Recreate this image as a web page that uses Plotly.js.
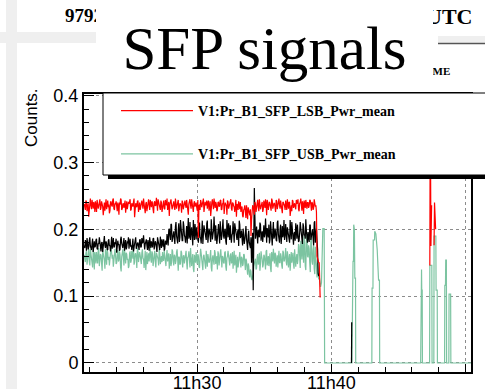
<!DOCTYPE html>
<html><head><meta charset="utf-8">
<script src="https://cdn.plot.ly/plotly-3.0.1.min.js"></script>
<style>html,body{margin:0;padding:0;background:#fff}#chart{width:485px;height:389px}</style>
</head><body><div id="chart"></div>
<script>
// ---- data ----
const day = '2011-01-17';
const sampleStart = '11:21:36';
const sampleStepSec = 5;      // A-samples every 5 s, B-samples half a step later
const lsbName = 'V1:Pr_B1_SFP_LSB_Pwr_mean';
const usbName = 'V1:Pr_B1_SFP_USB_Pwr_mean';
const refName = 'V1:Pr_B1_SFP_Pwr_mean';
const xTickFormat = '%Hh%M';

// red: LSB
const lsbDenseA = [
.238,.229,.241,.233,.219,.240,.236,.244,.231,.237,
.242,.226,.238,.235,.245,.232,.239,.221,.240,.236,
.230,.243,.237,.228,.241,.234,.246,.229,.238,.233,
.240,.222,.237,.244,.231,.239,.236,.225,.242,.234,
.238,.245,.230,.236,.241,.218,.239,.233,.243,.235,
.229,.240,.237,.246,.232,.238,.227,.241,.236,.244,
.233,.239,.224,.242,.236,.231,.245,.238,.229,.240,
.235,.243,.230,.238,.246,.233,.220,.241,.237,.234,
.242,.229,.239,.236,.244,.231,.238,.225,.240,.235,
.243,.232,.238,.222,.241,.236,.245,.230,.239,.234,
.240,.228,.187,.237,.244,.233,.239,.226,.241,.236,
.231,.243,.237,.220,.240,.234,.246,.232,.238,.229,
.241,.235,.244,.230,.238,.223,.240,.236,.243,.231,
.237,.245,.228,.239,.233,.241,.219,.236,.242,.230,
.226,.234,.218,.231,.224,.236,.215,.229,.221,.190,
.228,.235,.222,.238,.231,.244,.227,.239,.234,.241,
.230,.237,.245,.221,.240,.233,.238,.228,.243,.236,
.239,.226,.242,.234,.246,.231,.238,.224,.240,.235,
.243,.229,.237,.241,.220,.236,.244,.232,.239,.230,
.238,.245,.227,.240,.234,.242,.223,.237,.244,.231,
.240,.235,.243,.228,.238,.232,.241,.236,.160,.152];
const lsbDenseB = [
.232,.243,.227,.239,.235,.246,.230,.238,.241,.226,
.236,.244,.231,.240,.229,.242,.234,.237,.228,.245,
.239,.233,.224,.241,.236,.244,.231,.238,.242,.227,
.235,.240,.246,.229,.238,.232,.243,.236,.230,.241,
.244,.228,.239,.234,.246,.231,.237,.242,.226,.240,
.236,.243,.231,.238,.224,.241,.235,.245,.229,.239,
.242,.230,.240,.235,.247,.228,.238,.233,.243,.226,
.240,.231,.244,.236,.229,.241,.237,.245,.230,.238,
.233,.246,.231,.240,.227,.239,.235,.243,.230,.241,
.236,.244,.229,.238,.245,.231,.240,.226,.242,.237,
.233,.244,.235,.229,.240,.238,.246,.231,.237,.243,
.239,.228,.242,.236,.245,.230,.238,.241,.227,.240,
.234,.243,.229,.239,.246,.233,.237,.222,.241,.236,
.243,.231,.240,.235,.226,.244,.238,.229,.236,.241,
.232,.220,.229,.236,.217,.227,.233,.222,.230,.214,
.236,.229,.241,.226,.239,.233,.245,.230,.237,.226,
.243,.232,.238,.244,.229,.241,.235,.246,.231,.239,
.233,.244,.230,.239,.236,.243,.228,.241,.237,.229,
.236,.245,.231,.240,.233,.227,.242,.238,.234,.244,
.241,.230,.239,.246,.228,.237,.243,.232,.238,.240,
.232,.244,.237,.241,.229,.245,.234,.226,.155,.150];
// black: unlabelled series
const refDenseA = [
.176,.184,.168,.180,.173,.188,.171,.179,.166,.182,
.175,.186,.170,.178,.183,.167,.181,.174,.190,.172,
.179,.169,.185,.176,.181,.171,.187,.174,.178,.165,
.183,.177,.170,.189,.175,.180,.168,.184,.173,.179,
.171,.186,.176,.182,.167,.178,.188,.173,.180,.169,
.185,.174,.179,.191,.170,.181,.176,.184,.168,.178,
.182,.173,.187,.175,.180,.166,.183,.177,.189,.172,
.178,.185,.171,.180,.193,.176,.201,.184,.207,.189,
.197,.178,.211,.186,.199,.181,.214,.192,.183,.205,
.188,.196,.179,.217,.190,.184,.203,.176,.198,.208,
.185,.193,.180,.210,.187,.199,.178,.206,.191,.184,
.213,.189,.197,.181,.204,.192,.219,.183,.195,.187,
.208,.179,.196,.190,.215,.186,.201,.177,.193,.209,
.184,.198,.191,.212,.180,.203,.188,.196,.175,.207,
.190,.182,.201,.178,.194,.186,.169,.198,.176,.188,
.181,.109,.262,.186,.204,.179,.195,.210,.183,.197,
.199,.188,.216,.180,.194,.207,.185,.201,.176,.211,
.189,.196,.182,.213,.187,.200,.178,.205,.193,.184,
.208,.181,.197,.190,.214,.185,.202,.177,.196,.209,
.186,.199,.183,.211,.190,.178,.204,.192,.215,.187,
.196,.181,.207,.189,.200,.176,.212,.194,.185,.134];
const refDenseB = [
.172,.180,.187,.170,.183,.175,.169,.186,.177,.173,
.184,.171,.179,.188,.174,.180,.166,.185,.176,.182,
.170,.183,.175,.167,.189,.178,.173,.181,.186,.174,
.177,.168,.185,.179,.172,.187,.176,.170,.182,.188,
.180,.174,.169,.186,.177,.183,.171,.179,.175,.184,
.173,.187,.181,.170,.178,.185,.169,.176,.188,.172,
.179,.186,.170,.182,.174,.188,.176,.169,.181,.185,
.174,.168,.183,.177,.186,.198,.190,.208,.181,.196,
.186,.204,.190,.179,.209,.188,.197,.183,.212,.191,
.180,.205,.193,.186,.211,.197,.189,.214,.184,.194,
.203,.182,.196,.188,.179,.213,.192,.200,.186,.209,
.180,.201,.191,.215,.185,.198,.187,.206,.178,.200,
.192,.212,.184,.203,.190,.198,.182,.214,.188,.195,
.206,.180,.194,.186,.209,.191,.184,.200,.213,.187,
.198,.176,.192,.184,.205,.173,.191,.180,.172,.150,
.195,.176,.220,.193,.182,.199,.188,.207,.190,.181,
.206,.193,.184,.202,.188,.179,.212,.190,.197,.186,
.201,.184,.210,.192,.180,.207,.196,.188,.214,.190,
.185,.203,.192,.180,.199,.211,.188,.194,.183,.200,
.207,.181,.195,.202,.184,.209,.191,.186,.198,.180,
.191,.206,.184,.198,.187,.210,.180,.201,.170,.130];
// green: USB
const usbDenseA = [
.162,.151,.168,.157,.171,.146,.163,.155,.169,.140,
.158,.166,.149,.172,.155,.161,.138,.164,.153,.170,
.147,.165,.159,.152,.173,.156,.144,.167,.160,.150,
.169,.154,.162,.137,.165,.158,.171,.149,.163,.156,
.145,.167,.153,.160,.174,.151,.164,.142,.168,.157,
.161,.148,.170,.155,.163,.139,.166,.158,.152,.172,
.150,.164,.157,.168,.143,.162,.155,.171,.148,.160,
.166,.153,.159,.145,.169,.156,.141,.163,.150,.167,
.146,.160,.153,.170,.138,.158,.149,.165,.143,.161,
.155,.168,.140,.159,.151,.172,.145,.163,.136,.157,
.166,.148,.160,.142,.171,.153,.139,.162,.150,.168,
.144,.158,.152,.169,.137,.161,.147,.165,.154,.140,
.163,.151,.170,.143,.158,.149,.167,.138,.160,.155,
.146,.164,.152,.141,.168,.156,.135,.159,.150,.166,
.143,.157,.148,.162,.139,.153,.132,.145,.128,.137,
.124,.133,.148,.156,.142,.163,.151,.138,.167,.155,
.147,.160,.140,.169,.153,.145,.164,.136,.158,.171,
.149,.162,.155,.143,.168,.150,.159,.141,.165,.154,
.172,.146,.160,.152,.138,.166,.157,.148,.170,.144,
.163,.155,.175,.142,.168,.186,.150,.179,.139,.192,
.158,.171,.136,.188,.147,.176,.133,.162,.128,.140];
const usbDenseB = [
.155,.164,.147,.160,.152,.170,.158,.143,.162,.166,
.149,.157,.168,.145,.163,.150,.169,.156,.141,.161,
.170,.154,.146,.166,.158,.162,.153,.171,.148,.163,
.152,.167,.143,.159,.170,.146,.157,.165,.154,.142,
.164,.150,.168,.156,.147,.163,.158,.172,.151,.166,
.153,.165,.157,.142,.168,.159,.148,.164,.170,.155,
.167,.145,.162,.152,.165,.157,.146,.163,.159,.151,
.154,.168,.147,.161,.152,.164,.158,.145,.170,.153,
.162,.148,.166,.155,.159,.147,.168,.152,.160,.149,
.164,.151,.158,.167,.143,.160,.154,.141,.162,.150,
.152,.163,.145,.157,.164,.146,.160,.155,.141,.159,
.163,.150,.166,.143,.157,.153,.169,.148,.160,.167,
.146,.162,.155,.160,.150,.165,.144,.157,.168,.148,
.161,.149,.166,.155,.146,.162,.158,.143,.164,.153,
.159,.145,.163,.150,.156,.141,.149,.131,.140,.126,
.130,.145,.152,.140,.158,.147,.165,.149,.160,.143,
.162,.151,.167,.146,.160,.158,.141,.166,.152,.149,
.165,.144,.161,.157,.150,.164,.146,.168,.152,.160,
.151,.167,.143,.163,.158,.150,.165,.141,.162,.157,
.148,.178,.160,.183,.155,.171,.190,.145,.182,.160,
.176,.150,.185,.152,.169,.141,.174,.137,.150,.125];

// sparse readings after the drop-out (times hh:mm:ss, values; null = no data)
const lsbTailT = ['11:39:06','11:39:10','11:39:12','11:47:20','11:47:22','11:47:25','11:47:28','11:47:30','11:47:39','11:47:41','11:47:46','11:47:47'];
const lsbTailV = [0.150,0.098,null,0.146,0.400,0.175,0.236,null,0.176,0.240,0.200,null];
const refTailT = ['11:39:06','11:39:08','11:41:30','11:41:31','11:41:32'];
const refTailV = [0.134,null,0.0,0.061,null];
const usbTailT = ['11:39:06','11:39:12','11:39:16','11:39:22','11:39:28','11:39:30',
 '11:41:32','11:41:33','11:41:36','11:41:37','11:41:39','11:41:40','11:41:43','11:41:45','11:41:48','11:41:49',
 '11:43:01','11:43:02','11:43:06','11:43:07','11:43:13','11:43:14','11:43:19','11:43:25','11:43:31','11:43:35','11:43:36',
 '11:46:39','11:46:40','11:46:43','11:46:44','11:46:46','11:46:47',
 '11:47:19','11:47:20','11:47:29','11:47:30','11:47:38','11:47:39','11:47:47','11:47:48','11:47:53','11:47:54',
 '11:48:26','11:48:27','11:48:30','11:48:31','11:48:34','11:48:35','11:48:45','11:48:46','11:48:53','11:48:54','11:50:30'];
const usbTailV = [0.130,0.114,0.120,0.201,0.201,0.0,
 0.0,0.127,0.127,0.152,0.152,0.207,0.200,0.127,0.127,0.0,
 0.0,0.112,0.112,0.184,0.184,0.197,0.193,0.169,0.124,0.124,0.0,
 0.0,0.140,0.140,0.109,0.109,0.0,
 0.0,0.146,0.146,0.0,0.0,0.190,0.190,0.109,0.109,0.0,
 0.0,0.116,0.116,0.154,0.154,0.0,0.0,0.103,0.103,0.0,0.0];

// ---- helpers ----
const dayMs = Date.UTC(2011,0,17);
function toSec(hms){const p=hms.split(':').map(Number);return p[0]*3600+p[1]*60+p[2];}
const t0 = toSec(sampleStart);
function dense(a,b){ // interleave A samples (t0+5i) and B samples (t0+5i+2.5)
  const x=[],y=[];
  for(let i=0;i<a.length;i++){
    x.push(dayMs+(t0+i*sampleStepSec)*1000); y.push(a[i]);
    x.push(dayMs+(t0+i*sampleStepSec+sampleStepSec/2)*1000); y.push(b[i]);
  }
  return {x,y};
}
function series(a,b,tt,tv){
  const d=dense(a,b);
  return {x:d.x.concat(tt.map(s=>dayMs+toSec(s)*1000)), y:d.y.concat(tv)};
}

// ---- geometry helpers (pixel -> paper) ----
const W=485,H=389,L=84,R=14,T=94,B=17;
const pw=W-L-R, ph=H-T-B;
const px = x => (x-L)/pw;
const py = y => (H-B-y)/ph;

const red='#ff0000', green='#7cc4a1', black='#000000';
const sU=series(usbDenseA,usbDenseB,usbTailT,usbTailV);
const sR=series(refDenseA,refDenseB,refTailT,refTailV);
const sL=series(lsbDenseA,lsbDenseB,lsbTailT,lsbTailV);

const traces = [
 {x:sU.x, y:sU.y, name:usbName, type:'scatter', mode:'lines', line:{color:green,width:1.2}, legendgroup:'g2', legendrank:2, hoverinfo:'skip'},
 {x:sR.x, y:sR.y, name:refName, type:'scatter', mode:'lines', line:{color:black,width:1.2}, showlegend:false, hoverinfo:'skip'},
 {x:sL.x, y:sL.y, name:lsbName, type:'scatter', mode:'lines', line:{color:red,width:1.2}, legendgroup:'g1', legendrank:1, hoverinfo:'skip'}
];

const tickFont = {family:'Liberation Sans, Arial, sans-serif', size:18, color:'#000'};
const serifB = {family:'Liberation Serif, Times New Roman, serif', weight:'bold', color:'#000'};

const layout = {
 width:W, height:H, margin:{l:L,r:R,t:T,b:B},
 paper_bgcolor:'#fff', plot_bgcolor:'#fff', showlegend:true,
 xaxis:{type:'date', range:[day+' 11:21:35', day+' 11:50:24'], tickformat:xTickFormat,
   tick0:day+' 11:00', dtick:600000, ticks:'inside', ticklen:8, tickcolor:'#000', tickwidth:1,
   ticklabelstandoff:-7,
   showline:true, linecolor:'#000', linewidth:2, mirror:true,
   showgrid:true, gridcolor:'#8c8c8c', griddash:'3px,3px', gridwidth:1, zeroline:false,
   tickfont:tickFont,
   minor:{dtick:120000, ticks:'inside', ticklen:5, tickcolor:'#000', showgrid:false}},
 yaxis:{range:[-0.0135,0.4025], tick0:0, dtick:0.1, ticks:'inside', ticklen:10, tickcolor:'#000', tickwidth:1,
   showline:true, linecolor:'#000', linewidth:2, mirror:true,
   showgrid:true, gridcolor:'#8c8c8c', griddash:'3px,3px', gridwidth:1, zeroline:false,
   tickfont:tickFont,
   minor:{dtick:0.02, ticks:'inside', ticklen:5, tickcolor:'#000', showgrid:false}},
 legend:{x:px(116), y:py(95), xanchor:'left', yanchor:'top', bgcolor:'rgba(0,0,0,0)', borderwidth:0,
   traceorder:'grouped', tracegroupgap:22, itemwidth:72,
   font:Object.assign({size:14}, serifB)},
 shapes:[
  {type:'rect', xref:'paper', yref:'paper', x0:px(6), x1:px(17), y0:py(400), y1:py(-10), fillcolor:'#efefef', line:{width:0}, layer:'below'},
  {type:'rect', xref:'paper', yref:'paper', x0:px(-10), x1:px(100), y0:py(43), y1:py(32), fillcolor:'#efefef', line:{width:0}, layer:'below'},
  {type:'rect', xref:'paper', yref:'paper', x0:px(438), x1:px(500), y0:py(42.7), y1:py(36), fillcolor:'#efefef', line:{width:0}, layer:'below'},
  {type:'rect', xref:'paper', yref:'paper', x0:px(438), x1:px(500), y0:py(44.3), y1:py(42.7), fillcolor:'#555', line:{width:0}, layer:'below'},
  {type:'rect', xref:'paper', yref:'paper', x0:px(103), x1:px(500), y0:py(175), y1:py(93), fillcolor:'#fff', line:{color:'#000',width:1}, layer:'above'},
  {type:'rect', xref:'paper', yref:'paper', x0:px(108), x1:px(500), y0:py(179), y1:py(175), fillcolor:'#000', line:{width:0}, layer:'above'}
 ],
 annotations:[
  {text:'97923', xref:'paper', yref:'paper', x:px(63), y:py(15.5), xanchor:'left', yanchor:'middle', showarrow:false,
   font:Object.assign({size:19}, serifB)},
  {text:'UTC', xref:'paper', yref:'paper', x:px(474), y:py(16.5), xanchor:'right', yanchor:'middle', showarrow:false,
   font:Object.assign({size:22}, serifB)},
  {text:'TIME', xref:'paper', yref:'paper', x:px(452), y:py(70.5), xanchor:'right', yanchor:'middle', showarrow:false,
   font:Object.assign({size:11}, serifB)},
  {text:'Counts.', xref:'paper', yref:'paper', x:px(31), y:py(118), xanchor:'center', yanchor:'middle', textangle:-90, showarrow:false,
   font:{family:'Liberation Sans, Arial, sans-serif', size:17, color:'#000'}},
  {text:'SFP signals', xref:'paper', yref:'paper', x:px(96), y:py(0), xanchor:'left', yanchor:'top', showarrow:false,
   width:337, height:82, bgcolor:'#fff', borderpad:0, borderwidth:0, valign:'bottom', align:'center', xshift:0,
   font:{family:'Liberation Serif, Times New Roman, serif', size:61, color:'#000'}}
 ]
};

Plotly.newPlot('chart', traces, layout, {staticPlot:true, displayModeBar:false});
</script>
</body></html>
